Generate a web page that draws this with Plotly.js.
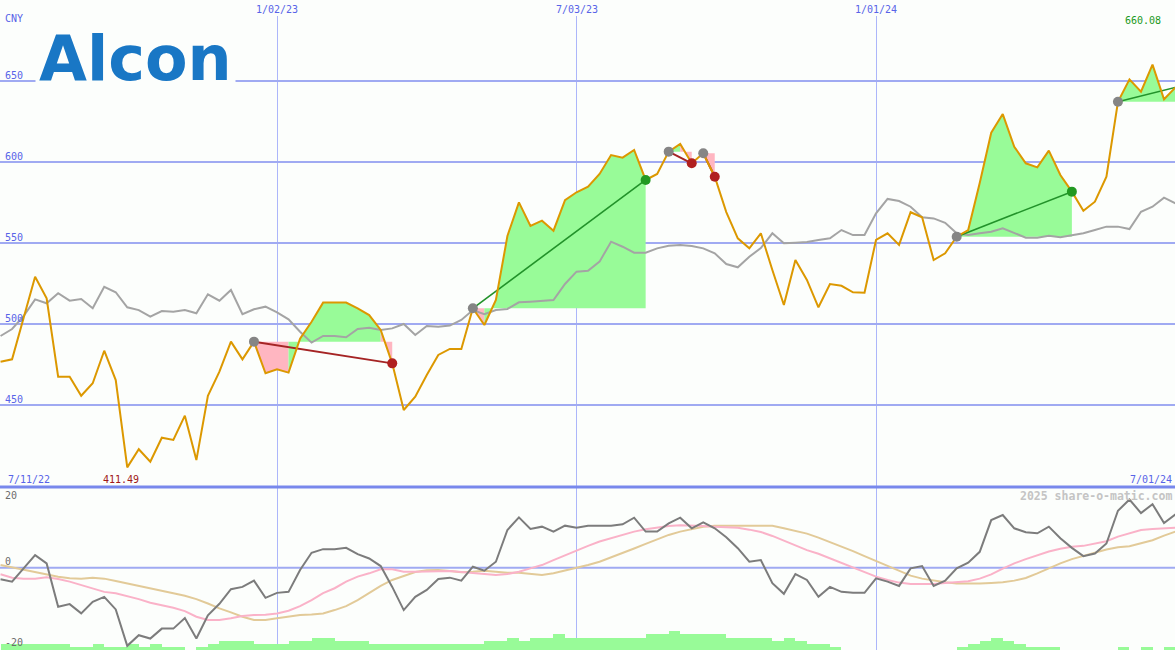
<!DOCTYPE html>
<html><head><meta charset="utf-8">
<script src="https://cdn.plot.ly/plotly-3.0.1.min.js"></script>
<style>html,body{margin:0;padding:0;background:#fcfefc;overflow:hidden}</style>
</head><body>
<div id="chart" style="width:1175px;height:650px"></div>
<script>
// ---------- DATA ----------
const dates = [
'2022-07-18','2022-07-25','2022-08-01','2022-08-08','2022-08-15','2022-08-22','2022-08-29','2022-09-05','2022-09-12','2022-09-19',
'2022-09-26','2022-10-03','2022-10-10','2022-10-17','2022-10-24','2022-10-31','2022-11-07','2022-11-14','2022-11-21','2022-11-28',
'2022-12-05','2022-12-12','2022-12-19','2022-12-26','2023-01-02','2023-01-09','2023-01-16','2023-01-23','2023-01-30','2023-02-06',
'2023-02-13','2023-02-20','2023-02-27','2023-03-06','2023-03-13','2023-03-20','2023-03-27','2023-04-03','2023-04-10','2023-04-17',
'2023-04-24','2023-05-01','2023-05-08','2023-05-15','2023-05-22','2023-05-29','2023-06-05','2023-06-12','2023-06-19','2023-06-26',
'2023-07-03','2023-07-10','2023-07-17','2023-07-24','2023-07-31','2023-08-07','2023-08-14','2023-08-21','2023-08-28','2023-09-04',
'2023-09-11','2023-09-18','2023-09-25','2023-10-02','2023-10-09','2023-10-16','2023-10-23','2023-10-30','2023-11-06','2023-11-13',
'2023-11-20','2023-11-27','2023-12-04','2023-12-11','2023-12-18','2023-12-25','2024-01-01','2024-01-08','2024-01-15','2024-01-22',
'2024-01-29','2024-02-05','2024-02-12','2024-02-19','2024-02-26','2024-03-04','2024-03-11','2024-03-18','2024-03-25','2024-04-01',
'2024-04-08','2024-04-15','2024-04-22','2024-04-29','2024-05-06','2024-05-13','2024-05-20','2024-05-27','2024-06-03','2024-06-10',
'2024-06-17','2024-06-24','2024-07-01'];

const price = [
476.7, 478.2, 503.7, 529.2, 515.9, 467.5, 467.5, 455.7, 463.4, 483.5,
465.4, 411.49, 422.7, 415.0, 429.8, 428.4, 443.4, 416.0, 455.7, 470.6,
489.1, 478.2, 489.1, 469.6, 472.0, 470.0, 491.0, 501.4, 513.2, 513.2,
513.2, 509.7, 505.5, 496.3, 475.7, 446.9, 455.1, 468.5, 480.9, 484.6,
484.6, 509.7, 499.4, 514.8, 554.3, 575.1, 560.5, 563.8, 557.6, 576.5,
581.3, 584.8, 592.6, 604.3, 602.7, 607.4, 588.9, 592.6, 606.4, 611.1,
599.2, 605.4, 590.9, 569.1, 552.9, 546.7, 556.0, 533.3, 511.7, 539.5,
527.2, 510.3, 524.7, 523.6, 519.6, 519.3, 551.9, 556.0, 548.8, 569.0,
565.9, 539.5, 543.6, 553.9, 558.0, 587.0, 618.1, 629.6, 609.4, 599.2,
596.7, 607.0, 592.0, 581.7, 569.9, 575.5, 590.9, 637.2, 651.0, 643.4,
660.08, 638.7, 646.1];

const benchmark = [
492.6, 496.9, 504.9, 515.2, 512.8, 519.0, 514.4, 515.4, 509.7, 523.0,
519.6, 510.3, 508.6, 504.5, 508.0, 507.6, 508.6, 506.6, 518.3, 514.4,
521.0, 506.0, 509.1, 510.7, 507.2, 502.9, 495.2, 488.5, 492.6, 492.6,
491.8, 496.9, 497.7, 496.3, 497.3, 500.0, 493.2, 498.8, 498.3, 499.0,
502.5, 508.6, 506.0, 508.6, 509.3, 513.4, 513.8, 514.4, 514.8, 524.7,
532.3, 532.9, 538.5, 550.8, 547.7, 544.0, 544.0, 546.7, 548.3, 548.8,
548.1, 546.7, 543.6, 537.0, 535.0, 541.5, 546.9, 556.0, 549.8, 550.2,
550.6, 551.9, 552.9, 558.0, 554.9, 554.9, 568.3, 577.2, 575.9, 572.4,
565.9, 565.2, 562.5, 556.0, 554.9, 556.0, 557.0, 559.1, 556.0, 553.3,
553.3, 554.5, 553.5, 554.9, 556.0, 558.0, 560.1, 560.1, 558.6, 569.3,
572.4, 578.0, 574.5];

const momentum = [
-3.5, -4.2, -0.2, 3.8, 1.3, -11.8, -11.0, -13.8, -10.3, -8.8,
-12.6, -23.6, -20.4, -21.4, -18.4, -18.4, -15.2, -21.4, -14.4, -10.9,
-6.5, -5.8, -3.9, -9.1, -7.6, -7.3, -0.7, 4.5, 5.6, 5.6,
6.0, 4.1, 2.8, 0.5, -5.8, -12.8, -8.8, -6.7, -3.4, -3.0,
-3.9, 0.3, -0.9, 1.8, 11.4, 15.2, 11.7, 12.4, 10.9, 12.7,
12.1, 12.7, 12.7, 12.7, 13.1, 15.1, 10.9, 10.9, 13.4, 15.1,
11.9, 13.7, 11.9, 9.2, 5.9, 1.8, 2.3, -4.7, -7.9, -1.9,
-3.7, -8.8, -5.8, -7.3, -7.6, -7.6, -3.2, -4.2, -5.5, -0.2,
0.5, -5.5, -3.9, -0.2, 1.5, 4.8, 14.4, 15.9, 11.9, 10.7,
10.4, 12.4, 8.9, 6.0, 3.5, 4.3, 7.3, 17.2, 20.6, 16.5,
19.2, 13.5, 16.1];

const signalFast = [
-2.0, -3.0, -3.3, -3.3, -2.9, -3.4, -4.2, -5.2, -6.2, -7.3,
-7.7, -8.5, -9.5, -10.6, -11.3, -12.1, -13.1, -14.8, -15.8, -15.8,
-15.3, -14.6, -14.3, -14.2, -13.8, -13.0, -11.6, -9.8, -7.7, -6.2,
-4.2, -2.7, -1.7, -0.5, -0.5, -1.2, -1.2, -1.2, -1.1, -1.0,
-1.3, -1.6, -1.8, -2.2, -1.9, -1.2, -0.2, 0.8, 2.3, 3.8,
5.3, 6.6, 7.9, 8.9, 9.9, 10.9, 11.6, 12.2, 12.6, 12.8,
12.8, 12.6, 12.4, 12.2, 12.1, 11.5, 10.8, 9.6, 8.2, 6.6,
5.3, 4.2, 2.8, 1.5, 0.1, -1.2, -2.7, -3.7, -4.5, -4.9,
-4.9, -4.9, -4.6, -4.4, -4.1, -3.3, -2.0, -0.3, 1.3, 2.6,
3.7, 4.9, 5.7, 6.3, 6.6, 7.3, 8.0, 9.4, 10.5, 11.4,
11.7, 11.9, 12.1];

const signalSlow = [
0.8, 0.1, -0.7, -1.4, -2.2, -2.7, -3.2, -3.3, -3.0, -3.3,
-4.0, -4.7, -5.5, -6.2, -7.0, -7.7, -8.5, -9.5, -10.8, -12.3,
-13.5, -14.8, -15.8, -15.8, -15.3, -14.8, -14.3, -14.1, -13.8, -12.8,
-11.6, -9.8, -7.7, -5.5, -3.7, -2.5, -1.3, -0.8, -0.7, -1.0,
-1.4, -1.2, -0.9, -1.2, -1.5, -1.5, -1.9, -2.2, -1.7, -0.9,
0.0, 0.8, 1.8, 3.1, 4.3, 5.8, 7.2, 8.6, 9.9, 10.9,
11.7, 12.4, 12.7, 12.7, 12.7, 12.7, 12.7, 12.7, 11.9, 11.2,
10.3, 9.1, 7.8, 6.5, 5.0, 3.5, 2.0, 0.6, -0.9, -2.4,
-3.3, -3.9, -4.4, -4.8, -4.9, -4.8, -4.6, -4.4, -3.9, -3.1,
-1.7, -0.1, 1.3, 2.6, 3.6, 4.6, 5.5, 6.2, 6.5, 7.4,
8.3, 9.7, 10.9];

const volume = [
2, 2, 2, 2, 2, 2, 1, 1, 2, 1,
1, 2, 1, 2, 1, 1, 0, 1, 2, 3,
3, 3, 2, 2, 2, 3, 3, 4, 4, 3,
3, 3, 2, 2, 2, 2, 2, 2, 2, 2,
2, 2, 3, 3, 4, 3, 4, 4, 5, 4,
4, 4, 4, 4, 4, 4, 5, 5, 6, 5,
5, 5, 5, 4, 4, 4, 4, 3, 4, 3,
2, 2, 1, 0, 0, 0, 0, 0, 0, 0,
0, 0, 0, 1, 2, 3, 4, 3, 2, 1,
1, 1, 0, 0, 0, 0, 0, 1, 0, 1,
0, 1, 0];

const tradeEntry = [22, 41, 58, 61, 83, 97];
const tradeExit  = [34, 56, 60, 62, 93, 102];
const tradeOpen  = [false, false, false, false, false, true];

const xTickVals = ['2023-01-02', '2023-07-03', '2024-01-01'];
const xTickText = ['1/02/23', '7/03/23', '1/01/24'];
const yTickVals = [450, 500, 550, 600, 650];
const oscTickText = ['20', '0', '-20'];
const currency = 'CNY';
const startLabel = '7/11/22';
const endLabel = '7/01/24';

// ---------- STYLE ----------
const BG = '#fcfefc';
const HGRID = 'rgb(160,170,242)';
const VGRID = 'rgb(172,182,250)';
const LBL = 'rgb(88,100,232)';
const GREENFILL = '#98fb98';
const PINKFILL = '#ffb6c1';
const GREENLINE = '#22922a';
const REDLINE = '#a52424';
const MONO = '"DejaVu Sans Mono", monospace';

const W = 1175, H = 650, TOP = 16;
const lowerFrac = 163 / (H - TOP);
const px = x => x / W;
const py = y => (H - y) / (H - TOP);

const traces = [];

// trade fills (contiguous runs of same colour)
tradeEntry.forEach((e, t) => {
  const x1 = tradeExit[t];
  const L = price[e];
  let runStart = e;
  let runColor = null;
  const flush = (a, b, col) => {
    const xs = [dates[a]], ys = [L];
    for (let k = a; k <= b; k++) { xs.push(dates[k]); ys.push(price[k]); }
    xs.push(dates[b]); ys.push(L);
    xs.push(dates[a]); ys.push(L);
    traces.push({x: xs, y: ys, xaxis: 'x', yaxis: 'y', type: 'scatter', mode: 'lines',
      fill: 'toself', fillcolor: col, line: {width: 0, color: col}, hoverinfo: 'skip'});
  };
  for (let i = e; i < x1; i++) {
    const col = price[i + 1] >= L ? GREENFILL : PINKFILL;
    if (runColor === null) { runColor = col; runStart = i; }
    else if (col !== runColor) { flush(runStart, i, runColor); runColor = col; runStart = i; }
  }
  if (runColor !== null) flush(runStart, x1, runColor);
});

// benchmark line
traces.push({x: dates, y: benchmark, xaxis: 'x', yaxis: 'y', type: 'scatter', mode: 'lines',
  line: {color: '#a4a4a4', width: 2}, hoverinfo: 'skip'});

// trade lines
tradeEntry.forEach((e, t) => {
  const x1 = tradeExit[t];
  const win = price[x1] > price[e];
  traces.push({x: [dates[e], dates[x1]], y: [price[e], price[x1]], xaxis: 'x', yaxis: 'y',
    type: 'scatter', mode: 'lines', line: {color: win ? GREENLINE : REDLINE, width: win ? 1.6 : 2}, hoverinfo: 'skip'});
});

// price line
traces.push({x: dates, y: price, xaxis: 'x', yaxis: 'y', type: 'scatter', mode: 'lines',
  line: {color: 'rgb(220,152,0)', width: 2}, hoverinfo: 'skip'});

// dots
traces.push({x: tradeEntry.map(i => dates[i]), y: tradeEntry.map(i => price[i]), xaxis: 'x', yaxis: 'y',
  type: 'scatter', mode: 'markers', marker: {color: '#858585', size: 10}, hoverinfo: 'skip'});
const exX = [], exY = [], exC = [];
tradeEntry.forEach((e, t) => {
  if (tradeOpen[t]) return;
  const x1 = tradeExit[t];
  exX.push(dates[x1]); exY.push(price[x1]);
  exC.push(price[x1] > price[e] ? '#229922' : '#b02020');
});
traces.push({x: exX, y: exY, xaxis: 'x', yaxis: 'y', type: 'scatter', mode: 'markers',
  marker: {color: exC, size: 10}, hoverinfo: 'skip'});

// lower panel: volume bars (base), then oscillator lines (overlay)
traces.push({x: dates, y: volume, xaxis: 'x2', yaxis: 'y2', type: 'bar',
  width: 7 * 86400000, offset: 0, marker: {color: GREENFILL, line: {width: 0}}, hoverinfo: 'skip'});
traces.push({x: dates, y: signalSlow, xaxis: 'x2', yaxis: 'y3', type: 'scatter', mode: 'lines',
  line: {color: 'rgb(226,202,152)', width: 2}, hoverinfo: 'skip'});
traces.push({x: dates, y: signalFast, xaxis: 'x2', yaxis: 'y3', type: 'scatter', mode: 'lines',
  line: {color: 'rgb(250,178,200)', width: 2}, hoverinfo: 'skip'});
traces.push({x: dates, y: momentum, xaxis: 'x2', yaxis: 'y3', type: 'scatter', mode: 'lines',
  line: {color: '#7c7c7c', width: 2}, hoverinfo: 'skip'});

// ---------- ANNOTATIONS ----------
const ann = [];
const txt = (text, x, y, o = {}) => ann.push(Object.assign({
  text: text, x: x, y: y, xref: 'paper', yref: 'paper', showarrow: false,
  xanchor: 'left', yanchor: 'middle', borderpad: 0,
  font: {family: MONO, size: 10, color: LBL}}, o));

txt(currency, px(4), py(19));
yTickVals.forEach(v => txt(String(v), px(4), v, {yref: 'y', yshift: 6}));
xTickVals.forEach((d, k) => txt(xTickText[k], d, py(9), {xref: 'x', xanchor: 'center'}));
txt(startLabel, px(7), py(479));
txt(endLabel, px(1173), py(479), {xanchor: 'right'});

const minV = Math.min(...price), maxV = Math.max(...price);
txt(minV.toFixed(2), px(121), py(479), {xanchor: 'center', font: {family: MONO, size: 10, color: '#a01818'}});
txt(maxV.toFixed(2), px(1162), py(21), {xanchor: 'right', font: {family: MONO, size: 10, color: '#229922'}});

const oscY = [495.5, 561.7, 642];
oscTickText.forEach((t, k) => txt(t, px(4), py(oscY[k]), {font: {family: MONO, size: 10, color: '#6c6c6c'}}));

txt('2025 share-o-matic.com', px(1173), py(496), {xanchor: 'right',
  font: {family: MONO, size: 11.5, color: '#c4c4c4', weight: 'bold'}});

// logo
ann.push({text: '<b>Alcon</b>', x: px(35), y: py(58), xref: 'paper', yref: 'paper', showarrow: false,
  xanchor: 'left', yanchor: 'middle', borderpad: 3, bgcolor: BG,
  font: {family: '"DejaVu Sans", sans-serif', size: 62, color: '#1977c5'}});

// ---------- LAYOUT ----------
const xRange = ['2022-07-17 16:00', '2024-06-30 16:00'];
const xBase = {type: 'date', range: xRange, tickvals: xTickVals, showticklabels: false, ticks: '',
  showgrid: true, gridcolor: VGRID, gridwidth: 1, zeroline: false, showline: false, fixedrange: true};

const layout = {
  width: W, height: H,
  margin: {l: 0, r: 0, t: TOP, b: 0, pad: 0},
  paper_bgcolor: BG, plot_bgcolor: BG,
  showlegend: false, hovermode: false, bargap: 0,
  xaxis: Object.assign({}, xBase, {anchor: 'y', domain: [0, 1]}),
  xaxis2: Object.assign({}, xBase, {anchor: 'y2', domain: [0, 1]}),
  yaxis: {domain: [lowerFrac, 1], range: [399.383, 690.123], tickvals: yTickVals, showticklabels: false,
    ticks: '', showgrid: true, gridcolor: HGRID, gridwidth: 2, zeroline: false, showline: false},
  yaxis2: {domain: [0, lowerFrac], range: [0, 52.5], showgrid: false, showticklabels: false,
    ticks: '', zeroline: false, showline: false},
  yaxis3: {overlaying: 'y2', anchor: 'x2', range: [-24.86, 24.38], showgrid: false, showticklabels: false,
    ticks: '', zeroline: false, showline: false},
  shapes: [
    {type: 'line', xref: 'paper', yref: 'y3', x0: 0, x1: 1, y0: 0, y1: 0, layer: 'below',
      line: {color: HGRID, width: 2}},
    {type: 'line', xref: 'paper', yref: 'paper', x0: 0, x1: 1, y0: lowerFrac, y1: lowerFrac,
      line: {color: 'rgb(120,136,236)', width: 3}}
  ],
  annotations: ann
};

Plotly.newPlot('chart', traces, layout, {staticPlot: true, displayModeBar: false});
</script>
</body></html>
